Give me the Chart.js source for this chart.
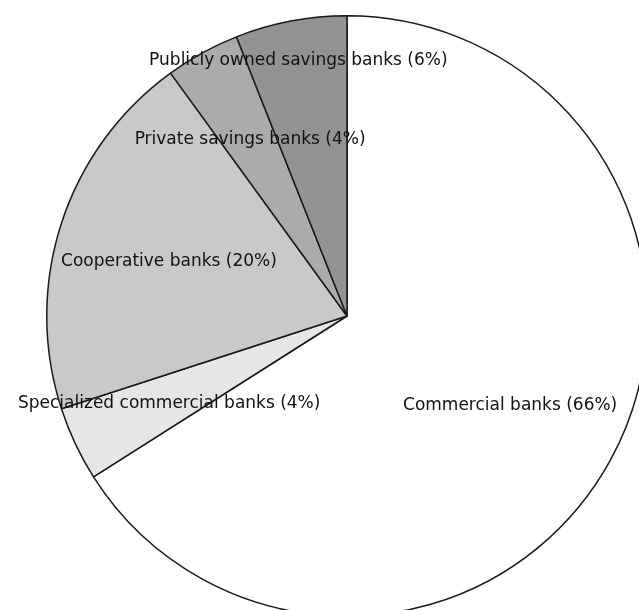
<!DOCTYPE html>
<html>
<head>
<meta charset="utf-8">
<script src="https://cdn.jsdelivr.net/npm/chart.js@4"></script>
<style>
  html, body { margin: 0; padding: 0; background: #fff; overflow: hidden; }
  #wrap { position: absolute; left: 0; top: 0; width: 694px; height: 632px; }
</style>
</head>
<body>
<div id="wrap"><canvas id="chart-banks"></canvas></div>
<script>
// Datos
const categorias = ['Commercial banks', 'Specialized commercial banks', 'Cooperative banks', 'Private savings banks', 'Publicly owned savings banks'];
const porcentajes = [66, 4, 20, 4, 6];
const colores = ['#ffffff', '#e6e6e6', '#c9c9c9', '#ababab', '#939393'];

// Posicion de etiquetas: fraccion del radio y desplazamiento angular (grados)
const etiquetaRadio = [0.62, 0.66, 0.62, 0.67, 0.865];
const etiquetaGiro = [0, -1, -1, 0, 0];

// Plugin para dibujar las etiquetas dentro de las porciones
const etiquetasPlugin = {
  id: 'etiquetas',
  afterDatasetsDraw(chart) {
    const ctx = chart.ctx;
    const meta = chart.getDatasetMeta(0);
    ctx.save();
    ctx.font = '17px "DejaVu Sans", Verdana, sans-serif';
    ctx.fillStyle = '#111';
    ctx.textAlign = 'center';
    ctx.textBaseline = 'middle';
    meta.data.forEach((arc, i) => {
      const p = arc.getProps(['x', 'y', 'startAngle', 'endAngle', 'outerRadius'], true);
      const ang = (p.startAngle + p.endAngle) / 2 + etiquetaGiro[i] * Math.PI / 180;
      const r = p.outerRadius * etiquetaRadio[i];
      const texto = categorias[i] + ' (' + porcentajes[i] + '%)';
      ctx.fillText(texto, p.x + Math.cos(ang) * r, p.y + Math.sin(ang) * r);
    });
    ctx.restore();
  }
};

const ctx = document.getElementById('chart-banks').getContext('2d');
new Chart(ctx, {
  type: 'pie',
  data: {
    labels: categorias,
    datasets: [{
      data: porcentajes,
      backgroundColor: colores,
      borderColor: '#1a1a1a',
      borderWidth: 1.5
    }]
  },
  options: {
    responsive: true,
    maintainAspectRatio: false,
    animation: false,
    layout: { padding: { left: 46, right: 46, top: 15, bottom: 15 } },
    plugins: {
      legend: { display: false },
      tooltip: { enabled: false }
    }
  },
  plugins: [etiquetasPlugin]
});
</script>
</body>
</html>
